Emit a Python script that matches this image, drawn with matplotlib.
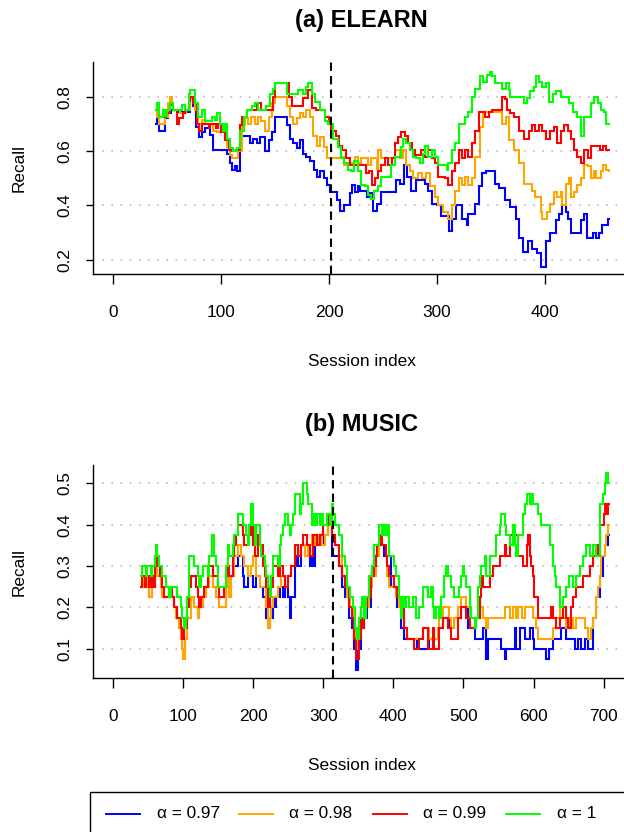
import matplotlib
matplotlib.use("Agg")
import matplotlib.pyplot as plt
from matplotlib.lines import Line2D
from matplotlib.patches import Rectangle

plt.rcParams['font.family'] = ['Liberation Sans', 'DejaVu Sans']

# ---- data (session index, recall) ----
labels = ["α = 0.97", "α = 0.98", "α = 0.99", "α = 1"]
colors = ["#0000FF", "#FFA500", "#FF0000", "#00FF00"]

elearn_097 = [(40,.70),(41,.72),(43,.675),(48,.72),(51,.74),(54,.75),(59,.745),(71,.795),(74,.765),(77,.69),(80,.65),(82,.67),(85,.685),(90,.66),(93,.605),(106,.59),(108,.555),(110,.53),(113,.545),(115,.525),(118,.60),(119,.655),(127,.63),(130,.645),(133,.63),(136,.65),(141,.60),(144,.64),(147,.67),(150,.725),(161,.695),(164,.645),(167,.63),(170,.61),(173,.64),(176,.59),(179,.58),(182,.565),(186,.53),(189,.505),(192,.525),(195,.50),(198,.475),(201,.45),(207,.42),(210,.38),(214,.40),(219,.445),(221,.475),(224,.45),(227,.47),(229,.455),(235,.43),(238,.445),(241,.38),(244,.405),(248,.45),(262,.495),(266,.48),(269,.55),(272,.505),(276,.455),(281,.495),(289,.48),(292,.455),(295,.405),(300,.40),(304,.36),(311,.305),(314,.35),(318,.40),(323,.35),(328,.33),(329,.37),(335,.405),(339,.47),(342,.52),(345,.525),(354,.48),(357,.465),(363,.42),(368,.395),(373,.35),(376,.28),(380,.23),(384,.27),(388,.24),(393,.225),(396,.175),(401,.27),(405,.30),(410,.345),(413,.37),(416,.40),(419,.375),(421,.35),(424,.30),(433,.345),(436,.37),(439,.28),(444,.30),(447,.28),(450,.30),(453,.33),(458,.35),(459,.35)]
elearn_098 = [(40,.75),(41,.725),(43,.70),(48,.725),(51,.775),(53,.80),(54.5,.77),(56,.75),(62,.74),(68,.75),(71,.795),(76,.75),(79,.70),(82,.715),(85,.70),(93,.675),(96,.67),(104,.64),(106,.615),(108,.585),(110,.575),(116,.60),(119,.695),(122,.72),(125,.70),(128,.725),(131.5,.70),(134.5,.725),(137.5,.71),(140.5,.675),(144,.725),(147,.775),(150,.80),(161,.765),(164,.725),(167,.70),(170,.72),(173,.74),(176,.725),(179,.75),(182,.725),(185.5,.655),(188.5,.62),(191.5,.65),(195,.615),(198,.575),(211,.58),(214,.55),(220,.555),(224,.58),(227,.555),(230,.575),(236,.55),(239,.575),(244,.535),(245,.605),(248,.575),(261,.605),(265.5,.575),(268.5,.605),(271.5,.55),(275,.525),(278,.50),(282,.52),(286,.50),(290,.52),(293.5,.47),(298,.43),(301,.40),(306,.375),(310.5,.35),(314,.40),(317,.455),(320,.50),(323,.475),(326,.505),(329,.475),(332,.50),(335.5,.58),(340,.69),(343,.745),(360,.70),(363.5,.725),(366.5,.64),(371,.605),(376,.555),(380.5,.48),(388,.455),(391,.43),(396,.375),(397.5,.35),(402,.375),(405,.405),(408.5,.45),(411.5,.43),(414.5,.45),(416,.40),(419,.48),(422.5,.50),(424,.43),(427,.45),(430,.475),(433,.50),(436.5,.55),(439.5,.545),(442.5,.50),(445.5,.525),(447,.50),(452,.525),(453.5,.55),(456.5,.53),(459,.525)]
elearn_099 = [(40,.75),(41,.775),(43,.725),(49.5,.74),(53,.77),(56,.75),(59.5,.70),(61.5,.72),(64.5,.74),(66.5,.75),(70,.785),(71,.80),(74,.775),(77.5,.70),(80,.675),(82,.70),(89,.685),(90,.70),(95,.685),(97,.70),(100,.67),(104,.64),(107,.605),(110,.60),(114,.605),(117.5,.695),(119,.725),(124,.75),(133,.775),(137.5,.75),(148,.80),(150,.85),(163,.80),(166,.765),(176,.795),(180.5,.825),(184,.76),(188,.75),(196,.725),(200,.70),(202,.675),(206.5,.655),(209.5,.62),(212.5,.605),(216,.575),(219,.55),(234.5,.52),(237,.525),(240,.475),(243,.50),(245.5,.525),(248.5,.55),(251.5,.575),(254.5,.55),(258,.575),(261,.63),(264,.65),(267,.67),(270,.655),(273,.63),(276.5,.605),(280,.585),(285,.605),(289,.58),(292,.605),(295,.575),(298,.555),(301,.505),(307.5,.50),(310.5,.475),(313.5,.525),(317,.555),(320,.605),(323,.575),(326,.605),(329,.58),(332,.63),(335.5,.675),(338.5,.745),(344.5,.725),(348,.745),(351,.75),(360,.80),(363,.79),(365,.75),(368,.74),(371,.725),(376,.675),(380.5,.645),(385,.675),(388,.695),(391,.675),(394.5,.695),(397.5,.675),(400.5,.645),(405,.675),(408.5,.69),(411.5,.63),(414.5,.675),(417.5,.695),(421,.675),(424,.645),(427,.605),(430,.58),(433,.555),(436.5,.605),(439.5,.575),(442.5,.62),(450.5,.605),(453.5,.62),(456.5,.605),(459,.605)]
elearn_1 = [(40,.75),(41,.775),(43,.725),(46,.75),(48,.73),(50,.75),(53,.775),(56,.75),(63.5,.77),(66.5,.75),(70,.81),(71,.825),(76,.775),(79,.725),(82,.75),(85,.71),(91.5,.725),(94.5,.715),(96,.74),(99,.70),(102,.675),(104,.70),(106,.645),(108,.61),(111.5,.60),(114.5,.61),(117.5,.675),(121,.725),(124,.75),(128.5,.765),(131.5,.775),(134.5,.75),(142,.765),(145,.81),(148,.83),(150,.85),(161,.81),(168.5,.81),(171.5,.825),(176,.81),(179,.835),(181,.85),(184,.81),(187,.78),(192,.75),(196,.71),(199,.70),(204,.645),(208,.615),(211,.575),(214,.555),(217.5,.53),(220.5,.525),(223.5,.565),(226.5,.525),(230,.475),(233,.47),(236,.44),(239,.425),(242,.455),(245.5,.47),(248.5,.505),(257.5,.55),(261,.58),(267,.615),(268.5,.645),(271.5,.63),(275,.605),(278,.58),(281,.575),(284,.555),(287,.59),(289,.62),(292,.58),(295,.605),(298,.58),(301,.55),(309,.53),(310.5,.555),(313.5,.605),(317,.63),(320,.70),(326,.725),(329,.745),(332,.80),(335.5,.83),(340,.875),(343,.855),(346.5,.88),(349.5,.89),(351,.875),(354,.85),(360,.83),(363.5,.85),(366.5,.825),(368,.80),(380.5,.775),(383.5,.795),(386.5,.82),(390,.835),(392,.875),(394.5,.855),(397.5,.835),(400.5,.85),(403.5,.78),(407,.81),(410,.82),(414.5,.80),(422.5,.775),(425.5,.745),(430,.725),(433,.655),(436.5,.725),(442.5,.775),(445.5,.80),(449,.775),(452,.75),(455,.745),(456.5,.70),(459,.70)]

music_097 = [(40,.25),(44,.275),(48.8,.25),(51.2,.225),(56,.25),(59.3,.3),(63.2,.275),(67.9,.25),(70.3,.225),(87.1,.2),(89.5,.175),(94.3,.15),(96.7,.125),(99,.1),(102.4,.125),(106.2,.175),(111,.225),(115.8,.2),(120.6,.175),(123,.2),(127.8,.225),(132.5,.25),(137.3,.275),(142.1,.25),(146.9,.225),(151.7,.2),(161.2,.25),(163.6,.275),(166,.225),(168.4,.275),(173.2,.3),(178,.325),(185.2,.275),(187.6,.25),(192.3,.275),(199.5,.25),(204.3,.275),(209.1,.25),(213.9,.225),(218.7,.175),(221.1,.15),(223.4,.175),(228.2,.225),(230.6,.2),(233,.225),(237.8,.25),(242.6,.225),(245,.25),(249.8,.225),(252.2,.175),(254.5,.225),(259.3,.3),(261.7,.325),(264.1,.3),(268.9,.35),(273.7,.325),(280.9,.3),(283.3,.325),(285.6,.3),(288,.35),(292.8,.375),(300,.35),(302.4,.375),(307.2,.4),(312.4,.325),(322,.3),(326.8,.25),(331.6,.225),(336.4,.175),(341.1,.15),(343.5,.1),(346.9,.05),(349.8,.1),(353.1,.15),(357.9,.175),(362.7,.2),(367.5,.275),(372.2,.325),(377,.35),(386.6,.325),(396.2,.25),(405.7,.2),(410.5,.15),(415.3,.125),(434.4,.1),(451.2,.125),(465.6,.15),(470.3,.175),(479.9,.15),(487.1,.175),(496.7,.2),(506.2,.15),(515.8,.125),(527.8,.15),(532.5,.075),(534.9,.125),(554.1,.1),(558.9,.075),(561.2,.1),(573.2,.15),(575.6,.1),(580.4,.15),(587.6,.125),(594.7,.15),(599,.125),(601.2,.1),(618,.075),(622.7,.1),(627.5,.125),(639.4,.15),(646.5,.125),(658.5,.1),(663.2,.125),(668,.1),(672.8,.125),(677.5,.1),(684.7,.175),(689.5,.225),(694.2,.275),(699,.325),(701.4,.35),(706.2,.375),(708,.375)]
music_098 = [(40,.25),(44,.275),(48.8,.25),(51.2,.225),(56,.25),(59.3,.3),(63.2,.275),(67.9,.25),(70.3,.225),(87.1,.2),(89.5,.175),(94.3,.15),(96.7,.125),(99,.1),(100.5,.075),(102.4,.125),(106.2,.175),(111,.225),(115.8,.2),(120.6,.175),(123,.2),(127.8,.225),(132.5,.25),(137.3,.275),(142.1,.25),(146.9,.225),(151.7,.2),(161.2,.25),(163.6,.275),(166,.225),(168.4,.275),(173.2,.325),(178,.35),(182.8,.325),(187.6,.3),(192.3,.275),(197.1,.3),(199.5,.325),(204.3,.275),(209.1,.25),(218.7,.2),(221.1,.15),(223.4,.175),(225.8,.2),(228.2,.225),(235.4,.25),(240.2,.275),(245,.25),(249.8,.275),(254.5,.3),(259.3,.35),(264.1,.325),(268.9,.35),(273.7,.325),(278.5,.35),(283.3,.375),(288,.35),(292.8,.375),(297.6,.35),(302.4,.375),(307.2,.4),(312.4,.375),(317.2,.35),(322,.325),(326.8,.275),(331.6,.25),(334,.225),(338.8,.2),(343.5,.15),(346.9,.1),(349.8,.125),(353.1,.15),(355.5,.175),(360.3,.2),(365.1,.25),(369.9,.275),(374.6,.325),(379.4,.375),(384.2,.35),(389,.325),(391.4,.275),(393.8,.25),(403.3,.225),(408.1,.2),(412.9,.175),(415.3,.15),(420.1,.125),(441.6,.15),(451.2,.125),(463.2,.15),(465.6,.175),(470.3,.2),(479.9,.175),(482.3,.15),(487.1,.175),(491.9,.2),(496.7,.225),(503.8,.2),(508.6,.15),(518.2,.175),(523,.2),(527.8,.175),(532.5,.15),(534.9,.175),(558.9,.2),(566,.175),(570.8,.2),(575.6,.175),(578,.2),(582.8,.175),(587.6,.2),(599,.175),(603.6,.15),(606,.125),(627.5,.15),(632.2,.175),(637,.2),(641.8,.175),(646.5,.15),(651.3,.175),(656.1,.15),(660.8,.175),(672.8,.15),(677.5,.125),(682.3,.15),(684.7,.175),(689.5,.225),(691.8,.25),(694.2,.275),(696.6,.325),(701.4,.35),(703.8,.375),(706.2,.4),(708,.4)]
music_099 = [(40,.25),(41.6,.275),(45,.25),(47.8,.275),(51.2,.25),(53.6,.275),(57.4,.25),(59.3,.3),(60.8,.325),(64.1,.3),(67,.275),(70.3,.25),(72.7,.225),(79.9,.25),(84.7,.225),(87.1,.2),(91.9,.175),(96.7,.15),(99,.125),(101.4,.15),(106.2,.2),(108.6,.25),(111,.275),(118.2,.25),(120.6,.225),(123,.2),(125.4,.225),(130.1,.25),(134.9,.3),(142.1,.275),(149.3,.25),(151.7,.225),(158.9,.25),(161.2,.275),(163.6,.3),(166,.275),(170.8,.325),(173.2,.35),(175.6,.375),(178,.4),(185.2,.375),(187.6,.35),(194.7,.375),(197.1,.4),(199.5,.35),(201.9,.325),(206.7,.375),(209.1,.35),(213.9,.3),(216.3,.275),(218.7,.25),(221.1,.2),(223.4,.225),(225.8,.25),(228.2,.3),(235.4,.275),(237.8,.3),(242.6,.275),(245,.25),(249.8,.275),(254.5,.3),(259.3,.35),(264.1,.325),(268.9,.35),(271.3,.375),(276.1,.35),(280.9,.325),(285.6,.375),(290.4,.35),(295.2,.375),(300,.4),(304.8,.425),(307.2,.4),(312.4,.375),(317.2,.35),(322,.3),(326.8,.275),(331.6,.25),(336.4,.2),(341.1,.175),(343.5,.125),(346.9,.075),(350.7,.125),(353.1,.175),(355.5,.15),(357.9,.175),(360.3,.2),(362.7,.225),(367.5,.275),(372.2,.3),(374.6,.325),(377,.35),(381.8,.375),(384.2,.35),(389,.325),(391.4,.3),(393.8,.275),(401,.25),(405.7,.225),(410.5,.2),(415.3,.15),(420.1,.125),(429.7,.1),(436.8,.125),(441.6,.15),(448.8,.1),(456,.15),(458.4,.1),(465.6,.15),(470.3,.175),(477.5,.15),(482.3,.125),(491.9,.175),(496.7,.2),(503.8,.175),(508.6,.15),(518.2,.175),(523,.225),(525.4,.275),(527.8,.25),(537.3,.275),(542.1,.3),(551.7,.325),(558.9,.35),(561.2,.325),(566,.375),(570.8,.4),(573.2,.375),(578,.325),(585.2,.3),(590,.35),(592.4,.375),(594.7,.325),(597,.3),(599.5,.275),(601,.225),(606,.175),(625,.2),(627.5,.175),(632,.15),(637,.175),(642,.2),(646.5,.175),(649,.15),(653.7,.2),(656,.225),(661,.25),(670.4,.275),(680,.3),(684.7,.325),(691.8,.35),(694.2,.4),(700,.425),(701.4,.45),(703.8,.425),(706.2,.45),(708,.45)]
music_1 = [(40,.275),(41.6,.3),(46.4,.275),(48.8,.3),(53.6,.275),(56,.3),(59.3,.325),(60.8,.35),(63.2,.325),(65.6,.3),(70.3,.275),(75.1,.25),(79.9,.225),(82.3,.25),(91.9,.225),(96.7,.2),(99,.175),(101.4,.15),(103.8,.175),(106.2,.225),(108.6,.325),(115.8,.3),(120.6,.275),(123,.25),(125.4,.275),(127.8,.3),(134.9,.275),(137.3,.325),(140.7,.375),(143.5,.325),(146.9,.3),(150.2,.25),(161.2,.3),(163.6,.35),(166,.325),(170.8,.35),(173.2,.375),(178,.425),(185.2,.4),(190,.375),(192.3,.35),(194.7,.4),(197.1,.45),(199.5,.4),(201.9,.35),(204.3,.4),(209.1,.35),(211.5,.325),(216.3,.3),(218.7,.275),(221.1,.25),(223.4,.225),(225.8,.275),(228.2,.325),(235.4,.3),(237.8,.35),(240.2,.375),(242.6,.4),(245,.425),(249.8,.4),(252.2,.375),(254.5,.4),(256.9,.425),(259.3,.475),(266.5,.425),(268.9,.45),(271.3,.5),(276.1,.475),(278.5,.45),(283.3,.4),(285.6,.425),(288,.4),(290.4,.425),(295.2,.4),(297.6,.425),(300,.4),(304.8,.425),(309.6,.4),(312,.45),(314,.425),(317,.4),(322,.375),(326.8,.325),(331.6,.3),(334,.25),(338.8,.225),(342.2,.2),(345.9,.15),(348.3,.125),(350.7,.175),(353.1,.2),(355.5,.225),(357.9,.175),(360.3,.225),(365.1,.275),(369.9,.3),(372.2,.35),(379.4,.4),(384.2,.375),(386.6,.4),(389,.375),(391.4,.4),(393.8,.325),(401,.3),(403.3,.275),(408.1,.225),(410.5,.175),(412.9,.225),(415.3,.2),(417.7,.225),(422.5,.2),(427.3,.225),(432.1,.175),(436.8,.2),(441.6,.25),(448.8,.225),(453.6,.25),(456,.2),(458.4,.175),(460.8,.2),(465.6,.175),(468,.225),(472.7,.275),(475.1,.3),(477.5,.275),(482.3,.25),(487.1,.225),(494.3,.25),(496.7,.275),(499,.3),(501.4,.275),(503.8,.25),(508.6,.2),(511,.175),(515.8,.15),(518.2,.175),(520.6,.25),(523,.275),(525.4,.3),(530.2,.325),(532.5,.275),(537.3,.325),(546.9,.375),(551.7,.4),(554.1,.425),(558.9,.4),(561.2,.375),(566,.35),(570.8,.4),(573.2,.35),(575.6,.325),(578,.375),(585.2,.425),(587.6,.45),(590,.475),(594.7,.45),(597.1,.475),(599.5,.45),(606,.425),(611,.4),(623,.35),(627.5,.3),(630,.275),(632,.25),(637,.2),(642,.225),(646.5,.25),(651,.275),(656,.25),(661,.275),(665.6,.3),(670.4,.325),(675.2,.35),(680,.325),(684.7,.35),(689.5,.325),(694.2,.45),(699,.475),(701.4,.5),(703.8,.525),(706.2,.5),(708,.5)]

elearn_split = 202
music_split = 314

W, H = 624, 832

def fx(px):
    return px / W

def fy(py):
    return 1 - py / H

fig = plt.figure(figsize=(6.24, 8.32), dpi=100)

panels = [
    dict(rect=[fx(93), fy(274), (630 - 93) / W, (274 - 62) / H],
         xlim=(-18.5, 478.7), ylim=(0.148, 0.9276),
         xticks=[0, 100, 200, 300, 400], yticks=[0.2, 0.4, 0.6, 0.8],
         title="(a) ELEARN", title_y=20, xlab_y=362,
         series=[elearn_097, elearn_098, elearn_099, elearn_1], split=elearn_split),
    dict(rect=[fx(93), fy(678), (632 - 93) / W, (678 - 465) / H],
         xlim=(-28.5, 740.4), ylim=(0.0297, 0.544),
         xticks=[0, 100, 200, 300, 400, 500, 600, 700], yticks=[0.1, 0.2, 0.3, 0.4, 0.5],
         title="(b) MUSIC", title_y=425, xlab_y=766,
         series=[music_097, music_098, music_099, music_1], split=music_split),
]

for p in panels:
    ax = fig.add_axes(p["rect"])
    for s, c in zip(p["series"], colors):
        xs = [v[0] for v in s]
        ys = [v[1] for v in s]
        ax.plot(xs, ys, color=c, lw=1.5, drawstyle="steps-post", solid_joinstyle="miter")
    ax.axvline(p["split"], color="black", lw=1.5, linestyle=(0, (4, 2.5)), zorder=5)
    ax.set_xlim(*p["xlim"])
    ax.set_ylim(*p["ylim"])
    ax.set_xticks(p["xticks"])
    ax.set_yticks(p["yticks"])
    ax.set_yticklabels([f"{v:g}" for v in p["yticks"]], rotation=90, va="center")
    ax.yaxis.grid(True, linestyle=(0, (1, 4.5)), color="#BEBEBE", lw=1.2)
    ax.set_axisbelow(True)
    for side in ["top", "right"]:
        ax.spines[side].set_visible(False)
    for side in ["left", "bottom"]:
        ax.spines[side].set_linewidth(1.0)
    ax.tick_params(axis="x", direction="out", length=7, width=1.0, labelsize=12.4, pad=15)
    ax.tick_params(axis="y", direction="out", length=5, width=1.0, labelsize=12.4, pad=10)
    ax.patch.set_visible(False)
    r = p["rect"]
    fig.text(fx(361.5), fy(p["title_y"]), p["title"], ha="center", va="center",
             fontsize=17, fontweight="bold")
    fig.text(fx(361.5), fy(p["xlab_y"]), "Session index", ha="center", va="center", fontsize=12.4)
    fig.text(fx(19), r[1] + r[3] / 2, "Recall", ha="center", va="center",
             rotation=90, fontsize=12.4)

# legend box along the bottom, running off the right edge like the reference
fig.add_artist(Rectangle((fx(90), -0.02), 0.95, fy(792) + 0.02, transform=fig.transFigure,
                         fill=False, edgecolor="black", lw=1.0))
leg_y = fy(814)
for lab, c, x0, xt in zip(labels, colors, [106, 239, 373, 506], [157, 289, 423, 557]):
    fig.add_artist(Line2D([fx(x0), fx(x0 + 34)], [leg_y, leg_y], color=c, lw=1.4,
                          transform=fig.transFigure))
    fig.text(fx(xt), leg_y, lab, ha="left", va="center", fontsize=12.4)

fig.savefig("out.png", dpi=100)
